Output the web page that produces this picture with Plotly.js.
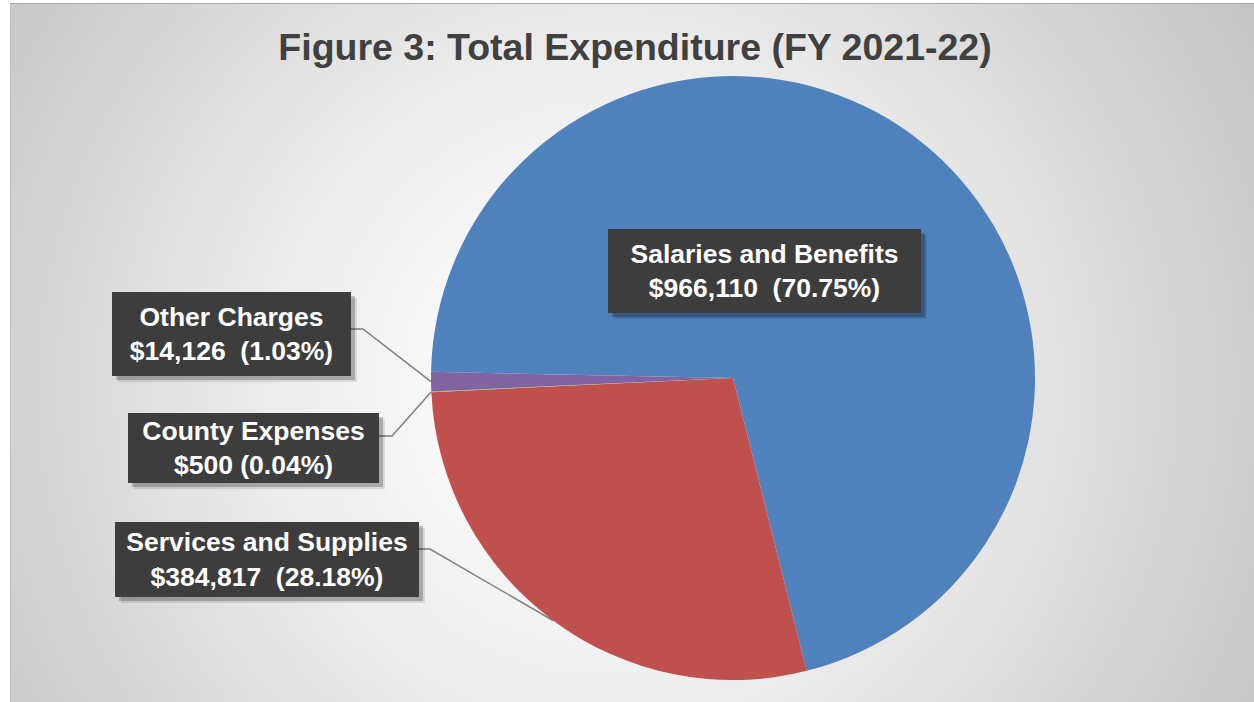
<!DOCTYPE html>
<html><head><meta charset="utf-8">
<script src="https://cdn.plot.ly/plotly-3.0.1.min.js"></script>
<style>
html,body{margin:0;padding:0;background:#fff;width:1254px;height:702px;overflow:hidden;}
#bg{position:absolute;left:10px;top:3px;width:1244px;height:699px;border-top:1px solid #a8a8a8;border-left:1px solid #bcbcbc;box-sizing:border-box;
 background:radial-gradient(circle farthest-corner at 48% 55%, #ffffff 0%, #f8f8f8 22%, #ececec 45%, #d8d8d8 72%, #c4c4c4 100%);}
#chart{position:absolute;left:0;top:0;width:1254px;height:702px;}
</style></head>
<body><div id="bg"></div><div id="chart"></div>
<script>
// ---- data ----
const categories = ['Salaries and Benefits', 'Services and Supplies', 'County Expenses', 'Other Charges'];
const amounts = [966110, 384817, 500, 14126];
const sliceColors = ['#4F81BD', '#C0504D', '#9BBB59', '#8064A2'];
const valuePctGaps = ['  ', '  ', ' ', '  '];
const chartTitle = 'Figure 3: Total Expenditure (FY 2021-22)';

// ---- layout constants (pixels) ----
const W = 1254, H = 702;
const PIE_CX = 733, PIE_CY = 378, PIE_R = 302;
const ROTATION = -88.83;
// label boxes: centre x/y, width, height
const boxCX = [764.5, 267, 253.5, 231.5];
const boxCY = [271, 559.5, 448, 334];
const boxW = [313, 304, 251, 239];
const boxH = [84, 75, 70, 84];
// leader lines: start (box edge) and elbow; null = no leader
const leadStartX = [null, 419, 379, 351];
const leadStartY = [null, 549, 436, 329];
const leadElbowX = [null, 430, 392, 363];

const total = amounts.reduce((a, b) => a + b, 0);
const pcts = amounts.map(v => v / total * 100);
const labelText = categories.map((c, i) =>
  c + '<br>$' + amounts[i].toLocaleString('en-US') + valuePctGaps[i] + '(' + pcts[i].toFixed(2) + '%)');

// mid-angle of each slice (clockwise from 12 o'clock)
const midAngles = [];
let cum = 0;
amounts.forEach(v => { midAngles.push(ROTATION + (cum + v / 2) / total * 360); cum += v; });
const deg = Math.PI / 180;

const lx = [], ly = [];
categories.forEach((c, i) => {
  if (leadStartX[i] === null) return;
  const ex = PIE_CX + PIE_R * Math.sin(midAngles[i] * deg);
  const ey = PIE_CY - PIE_R * Math.cos(midAngles[i] * deg);
  lx.push(leadStartX[i], leadElbowX[i], ex, null);
  ly.push(leadStartY[i], leadStartY[i], ey, null);
});

const pie = {
  type: 'pie',
  labels: categories,
  values: amounts,
  sort: false,
  direction: 'clockwise',
  rotation: ROTATION,
  textinfo: 'none',
  hoverinfo: 'none',
  marker: { colors: sliceColors, line: { width: 0 } },
  domain: {
    x: [(PIE_CX - PIE_R) / W, (PIE_CX + PIE_R) / W],
    y: [1 - (PIE_CY + PIE_R) / H, 1 - (PIE_CY - PIE_R) / H]
  },
  showlegend: false
};

const leaders = {
  type: 'scatter', mode: 'lines', x: lx, y: ly,
  line: { color: '#7f7f7f', width: 1.5 },
  hoverinfo: 'skip', showlegend: false, cliponaxis: false
};

const fontFam = 'Arial, "Liberation Sans", sans-serif';
const annotations = [];
const shadowLayers = [[6, -6, 'rgba(0,0,0,0.10)'], [4, -4, 'rgba(0,0,0,0.22)']];
shadowLayers.forEach(s => {
  categories.forEach((c, i) => {
    annotations.push({
      xref: 'x', yref: 'y', x: boxCX[i], y: boxCY[i], xanchor: 'center', yanchor: 'middle',
      xshift: s[0], yshift: s[1], width: boxW[i], height: boxH[i], borderpad: 0, borderwidth: 0,
      bgcolor: s[2], showarrow: false, text: ' ',
      font: { family: fontFam, size: 10, color: 'rgba(0,0,0,0)' }
    });
  });
});
categories.forEach((c, i) => {
  annotations.push({
    xref: 'x', yref: 'y', x: boxCX[i], y: boxCY[i], xanchor: 'center', yanchor: 'middle',
    width: boxW[i], height: boxH[i], borderpad: 0, borderwidth: 0,
    bgcolor: '#3d3d3d', showarrow: false, text: labelText[i],
    font: { family: fontFam, size: 26.5, color: '#ffffff', weight: 'bold' }
  });
});

const layout = {
  width: W, height: H,
  margin: { l: 0, r: 0, t: 0, b: 0, pad: 0 },
  paper_bgcolor: 'rgba(0,0,0,0)',
  plot_bgcolor: 'rgba(0,0,0,0)',
  title: {
    text: chartTitle,
    font: { family: fontFam, size: 37.5, color: '#404040', weight: 'bold' },
    xref: 'container', yref: 'container', x: 635 / W, xanchor: 'center',
    y: 1 - 34 / H, yanchor: 'top'
  },
  xaxis: { range: [0, W], visible: false, fixedrange: true },
  yaxis: { range: [H, 0], visible: false, fixedrange: true },
  showlegend: false,
  annotations: annotations
};

Plotly.newPlot('chart', [leaders, pie], layout, { staticPlot: true, displayModeBar: false });
</script>
</body></html>
